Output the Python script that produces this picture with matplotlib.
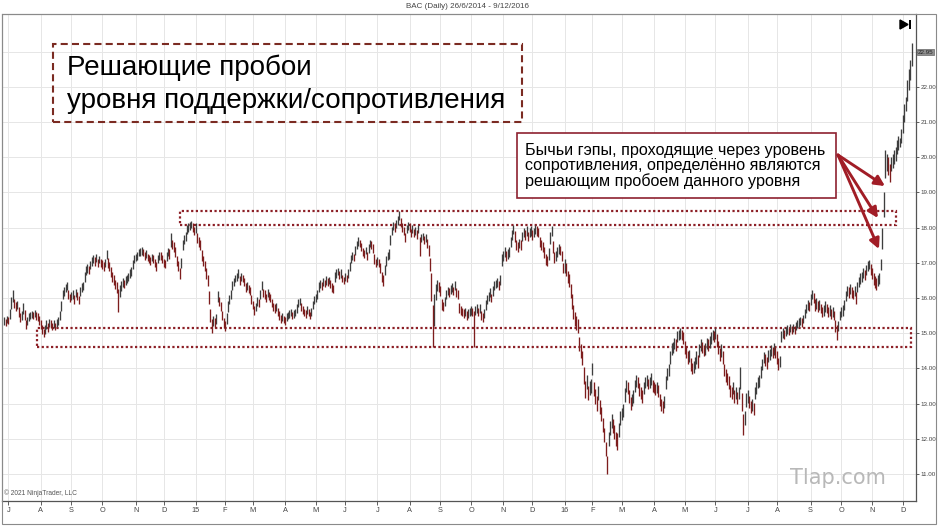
import numpy as np
import matplotlib.pyplot as plt
from matplotlib.patches import Rectangle, Polygon

plt.rcParams['font.family'] = ['Liberation Sans', 'DejaVu Sans']

''' --->> daily (low, high) per month, read off the chart <<--- '''
jun14 = [(15.22, 15.45), (15.20, 15.40), (15.28, 15.48)]
jul14 = [(15.25, 15.47), (15.40, 15.68), (15.70, 16.02), (15.88, 16.22), (15.72, 15.98), (15.64, 15.88),
         (15.68, 15.92), (15.45, 15.74), (15.32, 15.58), (15.38, 15.62), (15.55, 15.86), (15.38, 15.66),
         (15.12, 15.38), (15.22, 15.46), (15.34, 15.56), (15.40, 15.60), (15.44, 15.64), (15.40, 15.60),
         (15.45, 15.65), (15.38, 15.60), (15.34, 15.56), (15.22, 15.48)]
aug14 = [(15.12, 15.38), (14.98, 15.24), (14.88, 15.12), (14.98, 15.22), (15.12, 15.36), (15.04, 15.28),
         (15.18, 15.40), (15.14, 15.36), (15.08, 15.30), (15.14, 15.36), (15.10, 15.30), (15.18, 15.40),
         (15.24, 15.46), (15.36, 15.62), (15.62, 15.92), (15.96, 16.22), (16.06, 16.30), (16.18, 16.40),
         (16.22, 16.45), (15.98, 16.24), (15.88, 16.10)]
sep14 = [(15.94, 16.16), (15.98, 16.22), (15.84, 16.08), (16.02, 16.26), (15.94, 16.16), (15.84, 16.06),
         (16.06, 16.32), (16.18, 16.42), (16.24, 16.46), (16.45, 16.74), (16.66, 16.92), (16.72, 16.96),
         (16.68, 16.92), (16.82, 17.06), (16.92, 17.16), (16.98, 17.22), (16.92, 17.16), (17.02, 17.25),
         (16.88, 17.12), (16.98, 17.20), (16.88, 17.10)]
oct14 = [(16.82, 17.08), (16.78, 17.02), (16.88, 17.12), (17.10, 17.36), (16.86, 17.14), (16.76, 17.02),
         (16.60, 16.88), (16.46, 16.74), (16.36, 16.64), (16.26, 16.52), (16.14, 16.44), (15.60, 16.25),
         (16.02, 16.36), (16.20, 16.48), (16.32, 16.58), (16.28, 16.52), (16.38, 16.62), (16.42, 16.66),
         (16.48, 16.72), (16.58, 16.82), (16.62, 16.88), (16.82, 17.08), (16.98, 17.22)]
nov14 = [(17.04, 17.26), (17.08, 17.32), (17.18, 17.40), (17.18, 17.42), (17.22, 17.46), (17.18, 17.40),
         (17.08, 17.32), (17.14, 17.36), (17.04, 17.26), (16.98, 17.22), (16.94, 17.16), (17.04, 17.26),
         (16.98, 17.22), (16.88, 17.12), (16.78, 17.02), (16.98, 17.22), (17.08, 17.32), (17.08, 17.30),
         (16.98, 17.22)]
dec14 = [(16.88, 17.12), (16.84, 17.08), (17.06, 17.32), (17.18, 17.42), (17.12, 17.38), (17.45, 17.85),
         (17.38, 17.64), (17.32, 17.58), (17.16, 17.44), (16.90, 17.20), (16.76, 17.04), (16.55, 16.86),
         (16.86, 17.14), (17.36, 17.64), (17.52, 17.78), (17.62, 17.88), (17.82, 18.06), (17.88, 18.12),
         (17.94, 18.16), (17.98, 18.20), (17.88, 18.12), (17.78, 18.02)]
jan15 = [(17.86, 18.14), (17.56, 17.86), (17.46, 17.74), (17.36, 17.64), (17.04, 17.36), (16.92, 17.18),
         (16.76, 17.04), (16.55, 16.86), (16.34, 16.66), (15.82, 16.20), (15.32, 15.70), (15.00, 15.40),
         (15.20, 15.50), (15.16, 15.44), (15.26, 15.54), (15.88, 16.20), (15.76, 16.04), (15.62, 15.88),
         (15.36, 15.64), (15.16, 15.44)]
feb15 = [(15.06, 15.34), (15.26, 15.56), (15.60, 15.90), (15.82, 16.08), (15.98, 16.22), (16.22, 16.48),
         (16.34, 16.56), (16.44, 16.66), (16.48, 16.72), (16.58, 16.82), (16.38, 16.62), (16.48, 16.72),
         (16.44, 16.66), (16.34, 16.56), (16.18, 16.42), (16.24, 16.46), (16.14, 16.36), (16.08, 16.32),
         (15.82, 16.08)]
mar15 = [(15.68, 15.92), (15.52, 15.78), (15.64, 15.86), (15.78, 16.02), (15.74, 15.96), (15.96, 16.24),
         (16.22, 16.48), (16.04, 16.26), (15.98, 16.22), (15.88, 16.12), (16.04, 16.26), (15.94, 16.16),
         (15.88, 16.12), (15.74, 15.96), (15.64, 15.86), (15.58, 15.82), (15.64, 15.86), (15.48, 15.72),
         (15.38, 15.62), (15.28, 15.52), (15.34, 15.56), (15.30, 15.50)]
apr15 = [(15.24, 15.46), (15.34, 15.56), (15.40, 15.60), (15.44, 15.66), (15.50, 15.70), (15.40, 15.60),
         (15.44, 15.66), (15.50, 15.70), (15.58, 15.82), (15.74, 15.96), (15.80, 16.00), (15.64, 15.86),
         (15.54, 15.76), (15.50, 15.70), (15.44, 15.66), (15.54, 15.76), (15.50, 15.70), (15.40, 15.60),
         (15.48, 15.72), (15.68, 15.92), (15.84, 16.06)]
may15 = [(15.88, 16.12), (15.98, 16.22), (16.16, 16.44), (16.28, 16.52), (16.24, 16.46), (16.34, 16.56),
         (16.30, 16.50), (16.38, 16.62), (16.34, 16.56), (16.40, 16.60), (16.28, 16.52), (16.18, 16.42),
         (16.14, 16.36), (16.46, 16.74), (16.58, 16.82), (16.64, 16.86), (16.54, 16.76), (16.58, 16.82),
         (16.44, 16.66), (16.40, 16.60)]
jun15 = [(16.48, 16.72), (16.44, 16.66), (16.58, 16.82), (16.78, 17.02), (16.98, 17.22), (17.08, 17.32),
         (17.04, 17.26), (17.22, 17.48), (17.38, 17.62), (17.48, 17.72), (17.44, 17.66), (17.34, 17.56),
         (17.18, 17.42), (17.14, 17.36), (17.24, 17.46), (17.08, 17.32), (17.28, 17.52), (17.44, 17.66),
         (17.38, 17.62), (17.28, 17.52), (16.96, 17.24), (16.88, 17.12)]
jul15 = [(16.94, 17.16), (16.88, 17.12), (16.72, 16.98), (16.46, 16.74), (16.35, 16.64), (16.66, 16.94),
         (16.92, 17.18), (17.08, 17.32), (17.12, 17.38), (17.50, 17.80), (17.78, 18.02), (17.94, 18.16),
         (17.88, 18.12), (17.98, 18.22), (18.08, 18.32), (18.22, 18.48), (18.02, 18.28), (17.88, 18.12),
         (17.78, 18.02), (17.58, 17.84), (17.84, 18.06), (17.94, 18.16)]
aug15 = [(17.88, 18.12), (17.74, 17.96), (17.84, 18.06), (17.74, 17.96), (17.78, 18.02), (17.68, 17.92),
         (17.84, 18.06), (17.20, 17.72), (17.58, 17.82), (17.64, 17.86), (17.54, 17.76), (17.58, 17.82),
         (17.42, 17.68), (17.20, 17.50), (16.76, 17.15), (15.90, 16.70), (14.60, 15.80), (15.20, 16.10),
         (15.95, 16.40), (16.20, 16.50), (16.16, 16.44)]
sep15 = [(16.06, 16.34), (15.66, 15.96), (15.62, 15.88), (15.76, 16.04), (15.96, 16.24), (16.08, 16.32),
         (16.02, 16.28), (16.12, 16.38), (16.18, 16.42), (16.08, 16.32), (16.22, 16.48), (16.02, 16.28),
         (15.96, 16.24), (15.56, 15.86), (15.52, 15.78), (15.48, 15.72), (15.42, 15.68), (15.48, 15.72),
         (15.38, 15.62), (15.42, 15.68), (15.48, 15.72)]
oct15 = [(15.52, 15.78), (15.48, 15.72), (14.60, 15.62), (15.52, 15.78), (15.58, 15.82), (15.48, 15.72),
         (15.58, 15.82), (15.38, 15.62), (15.32, 15.58), (15.42, 15.68), (15.66, 15.94), (15.82, 16.08),
         (15.92, 16.18), (16.02, 16.28), (15.88, 16.12), (16.06, 16.34), (16.22, 16.48), (16.28, 16.52),
         (16.32, 16.58), (16.22, 16.48), (16.36, 16.64), (16.90, 17.25)]
nov15 = [(17.06, 17.34), (17.16, 17.44), (17.06, 17.34), (17.12, 17.38), (17.16, 17.44), (17.46, 17.74),
         (17.66, 17.94), (17.82, 18.08), (17.60, 17.90), (17.36, 17.64), (17.32, 17.58), (17.42, 17.68),
         (17.36, 17.64), (17.62, 17.88), (17.72, 17.98), (17.66, 17.94), (17.76, 18.04), (17.62, 17.88),
         (17.72, 17.98), (17.76, 18.04)]
dec15 = [(17.66, 17.94), (17.72, 17.98), (17.82, 18.08), (17.76, 18.04), (17.72, 17.98), (17.46, 17.74),
         (17.36, 17.64), (17.32, 17.58), (17.14, 17.46), (16.94, 17.26), (16.90, 17.20), (17.08, 17.42),
         (17.52, 17.88), (17.76, 18.04), (17.28, 17.62), (17.00, 17.30), (17.06, 17.34), (17.16, 17.44),
         (17.26, 17.54), (17.22, 17.48), (17.06, 17.34), (16.72, 17.00)]
jan16 = [(16.70, 17.10), (16.62, 16.98), (16.42, 16.78), (16.32, 16.68), (16.00, 16.40), (15.70, 16.10),
         (15.40, 15.80), (15.20, 15.60), (15.10, 15.50), (15.00, 15.40), (14.50, 14.90), (14.30, 14.70),
         (14.10, 14.50), (13.55, 14.05), (13.15, 13.65), (13.40, 13.80), (13.10, 13.50), (13.25, 13.65),
         (13.30, 13.70)]
feb16 = [(13.80, 14.15), (13.20, 13.60), (13.00, 13.40), (12.80, 13.20), (13.10, 13.50), (12.70, 13.10),
         (12.50, 12.90), (12.20, 12.60), (11.90, 12.30), (11.50, 11.90), (10.99, 11.50), (11.80, 12.20),
         (12.10, 12.50), (12.30, 12.70), (12.15, 12.55), (12.00, 12.40), (11.80, 12.20), (11.68, 12.15),
         (12.05, 12.45), (12.40, 12.80)]
mar16 = [(12.52, 12.88), (12.62, 12.98), (13.05, 13.45), (13.32, 13.68), (13.28, 13.62), (13.02, 13.38),
         (12.82, 13.18), (12.92, 13.28), (13.02, 13.38), (13.32, 13.68), (13.48, 13.82), (13.44, 13.76),
         (13.22, 13.58), (13.12, 13.48), (13.02, 13.38), (13.28, 13.62), (13.44, 13.76), (13.50, 13.80),
         (13.40, 13.70), (13.44, 13.76), (13.54, 13.86), (13.34, 13.66)]
apr16 = [(13.30, 13.60), (13.24, 13.56), (13.30, 13.60), (13.18, 13.52), (12.92, 13.28), (12.78, 13.12),
         (12.74, 13.06), (12.88, 13.22), (13.42, 13.78), (13.68, 14.02), (13.78, 14.12), (14.12, 14.48),
         (14.38, 14.72), (14.44, 14.76), (14.54, 14.86), (14.48, 14.82), (14.74, 15.06), (14.80, 15.10),
         (14.84, 15.14), (14.80, 15.10), (14.68, 15.02)]
may16 = [(14.42, 14.78), (14.28, 14.62), (14.12, 14.48), (14.18, 14.52), (13.92, 14.28), (13.84, 14.16),
         (13.88, 14.22), (13.98, 14.32), (14.12, 14.48), (14.02, 14.38), (14.32, 14.68), (14.48, 14.82),
         (14.44, 14.76), (14.34, 14.66), (14.38, 14.72), (14.54, 14.86), (14.48, 14.82), (14.58, 14.92),
         (14.68, 15.02), (14.80, 15.10), (14.74, 15.06)]
jun16 = [(14.84, 15.16), (14.62, 14.98), (14.42, 14.78), (14.22, 14.58), (14.32, 14.68), (14.12, 14.48),
         (13.78, 14.12), (13.62, 13.98), (13.52, 13.88), (13.42, 13.78), (13.18, 13.52), (13.12, 13.48),
         (13.28, 13.62), (13.02, 13.38), (13.12, 13.48), (12.98, 13.32), (13.12, 13.48), (13.40, 14.05),
         (12.80, 13.30), (12.10, 12.70), (12.40, 12.80), (12.90, 13.30)]
jul16 = [(13.02, 13.38), (12.88, 13.22), (12.72, 13.08), (12.78, 13.12), (12.68, 13.02), (13.12, 13.48),
         (13.28, 13.62), (13.44, 13.76), (13.48, 13.82), (13.72, 14.08), (13.94, 14.26), (14.14, 14.46),
         (14.08, 14.42), (13.98, 14.32), (14.18, 14.52), (14.24, 14.56), (14.34, 14.66), (14.28, 14.62),
         (14.38, 14.72), (14.28, 14.62)]
aug16 = [(14.12, 14.48), (13.94, 14.28), (14.04, 14.36), (14.76, 15.06), (14.86, 15.14), (14.82, 15.08),
         (14.92, 15.18), (14.98, 15.22), (14.94, 15.16), (15.04, 15.26), (14.98, 15.20), (15.04, 15.26),
         (14.98, 15.20), (15.08, 15.32), (15.14, 15.36), (15.18, 15.42), (15.22, 15.46), (15.18, 15.42),
         (15.28, 15.52), (15.42, 15.68), (15.56, 15.84), (15.66, 15.94), (15.62, 15.88)]
sep16 = [(15.80, 16.10), (15.96, 16.24), (15.86, 16.14), (15.64, 15.96), (15.70, 16.00), (15.60, 15.90),
         (15.66, 15.94), (15.56, 15.84), (15.46, 15.74), (15.50, 15.80), (15.60, 15.90), (15.56, 15.84),
         (15.46, 15.74), (15.50, 15.80), (15.40, 15.70), (15.46, 15.74), (15.36, 15.64), (15.04, 15.36),
         (14.80, 15.22), (15.06, 15.34), (15.36, 15.64)]
oct16 = [(15.46, 15.74), (15.50, 15.80), (15.66, 15.94), (15.90, 16.20), (16.06, 16.34), (16.00, 16.30),
         (16.10, 16.40), (16.00, 16.30), (15.96, 16.24), (16.06, 16.34), (15.82, 16.18), (16.16, 16.44),
         (16.30, 16.60), (16.40, 16.70), (16.46, 16.74), (16.56, 16.84), (16.50, 16.80), (16.66, 16.94),
         (16.76, 17.04), (16.82, 17.08), (16.64, 16.96)]
nov16 = [(16.54, 16.86), (16.38, 16.72), (16.28, 16.62), (16.24, 16.56), (16.34, 16.66), (16.40, 16.70),
         (16.80, 17.10), (17.40, 18.00), (18.30, 19.00), (19.40, 20.20), (19.60, 20.10), (19.50, 20.00),
         (19.30, 19.80), (19.60, 20.00), (19.70, 20.10), (19.80, 20.20), (19.90, 20.30), (20.10, 20.50),
         (20.20, 20.60), (20.30, 20.55), (20.40, 20.80)]
dec16 = [(20.70, 21.20), (21.00, 21.50), (21.30, 21.70), (21.60, 22.20), (21.90, 22.50), (22.20, 22.75),
         (22.60, 23.24)]

months = [jun14, jul14, aug14, sep14, oct14, nov14, dec14,
          jan15, feb15, mar15, apr15, may15, jun15, jul15, aug15, sep15, oct15, nov15, dec15,
          jan16, feb16, mar16, apr16, may16, jun16, jul16, aug16, sep16, oct16, nov16, dec16]
month_labels = ['J', 'A', 'S', 'O', 'N', 'D',
                '15', 'F', 'M', 'A', 'M', 'J', 'J', 'A', 'S', 'O', 'N', 'D',
                '16', 'F', 'M', 'A', 'M', 'J', 'J', 'A', 'S', 'O', 'N', 'D']
last_price = 22.95
resistance = (18.07, 18.48)
support = (14.60, 15.14)

''' --->> build bars <<--- '''
lo = np.array([b[0] for m in months for b in m])
hi = np.array([b[1] for m in months for b in m])
idx = np.arange(len(lo))
mid = (lo + hi) / 2
down = mid < np.r_[mid[0], mid[:-1]]
starts = np.cumsum([len(m) for m in months])[:-1]

W, H = 938, 526
def fp(x, y):
    return (x / W, 1 - y / H)

fig = plt.figure(figsize=(W / 100, H / 100), dpi=100)
ax = fig.add_axes([2 / W, 25 / H, 914 / W, 487 / H])

ax.vlines(idx[~down], lo[~down], hi[~down], color='#3e3e3e', lw=0.95)
ax.vlines(idx[down], lo[down], hi[down], color='#7d1d1d', lw=0.95)

ax.set_xlim(-1.4, 623)
ax.set_ylim(10.23, 24.07)
ax.set_xticks(starts)
ax.set_xticklabels(month_labels)
ax.set_yticks(range(11, 24))
ax.set_yticklabels([f'{v:.2f}' if v < 23 else '' for v in range(11, 24)])
ax.yaxis.tick_right()
ax.tick_params(axis='x', labelsize=5.3, colors='#444', length=3, width=0.6, pad=1.5)
ax.tick_params(axis='y', labelsize=4.5, colors='#444', length=2, width=0.6, pad=1)
ax.grid(color='#e6e6e6', lw=0.7)
ax.set_axisbelow(True)
for s in ['left', 'top']:
    ax.spines[s].set_color('#8a8a8a')
    ax.spines[s].set_linewidth(0.8)
for s in ['right', 'bottom']:
    ax.spines[s].set_color('#555555')
    ax.spines[s].set_linewidth(0.9)

# support / resistance zones
ax.add_patch(Rectangle((120.2, resistance[0]), 489, resistance[1] - resistance[0], fill=False,
                       ec='#8c1f26', lw=1.6, ls=(0, (1, 1.1))))
ax.add_patch(Rectangle((22.3, support[0]), 597, support[1] - support[0], fill=False,
                       ec='#8c1f26', lw=1.6, ls=(0, (1, 1.1))))

# frame, title, credits
fig.add_artist(Rectangle(fp(2, 524), 934 / W, 510 / H, transform=fig.transFigure,
                         fill=False, ec='#8a8a8a', lw=0.8))
fig.text(467 / W, 1 - 6 / H, 'BAC (Daily) 26/6/2014 - 9/12/2016', ha='center', va='center',
         fontsize=5.8, color='#444')
ax.text(0.002, 0.008, '© 2021 NinjaTrader, LLC', transform=ax.transAxes, fontsize=4.8, color='#555',
        va='bottom')
fig.text(790 / W, 1 - 478 / H, 'Tlap.com', fontsize=15, color='#b8b8b8', va='center',
         family='DejaVu Sans')

# last price tag and scroll icon
fig.text(917.5 / W, 1 - 52 / H, f'{last_price:.2f}', fontsize=4.5, color='#222', va='center',
         bbox=dict(boxstyle='square,pad=0.15', fc='#8f8f8f', ec='#666', lw=0.5))
fig.add_artist(Polygon([fp(900, 20), fp(900, 29), fp(908, 24.5)], closed=True,
                       transform=fig.transFigure, fc='black', ec='black'))
fig.add_artist(Rectangle(fp(909.3, 29), 1.8 / W, 9 / H, transform=fig.transFigure, fc='black', ec='none'))

# heading box
fig.add_artist(Rectangle(fp(53, 122), 469 / W, 78 / H, transform=fig.transFigure, fill=False,
                         ec='#7b2b22', lw=1.5, ls=(0, (3.4, 2))))
fig.text(*fp(67, 68), 'Решающие пробои', fontsize=20, va='center', color='black')
fig.text(*fp(67, 101), 'уровня поддержки/сопротивления', fontsize=20, va='center', color='black')

# gap note
fig.add_artist(Rectangle(fp(517, 198), 319 / W, 65 / H, transform=fig.transFigure, fc='white',
                         ec='#8e2130', lw=1.2))
fig.text(*fp(525, 166), 'Бычьи гэпы, проходящие через уровень\nсопротивления, определённо являются\n'
         'решающим пробоем данного уровня', fontsize=11.6, va='center', linespacing=1.02, color='black')

tips = [(601.8, 19.18), (597.0, 18.27), (597.7, 17.39)]
for tx, ty in tips:
    ax.annotate('', xy=(tx, ty), xycoords='data', xytext=fp(838, 155), textcoords='figure fraction',
                arrowprops=dict(arrowstyle='-|>', color='#a11d26', lw=2.1, mutation_scale=15,
                                shrinkA=0, shrinkB=0))

fig.savefig('out.png', dpi=100)
